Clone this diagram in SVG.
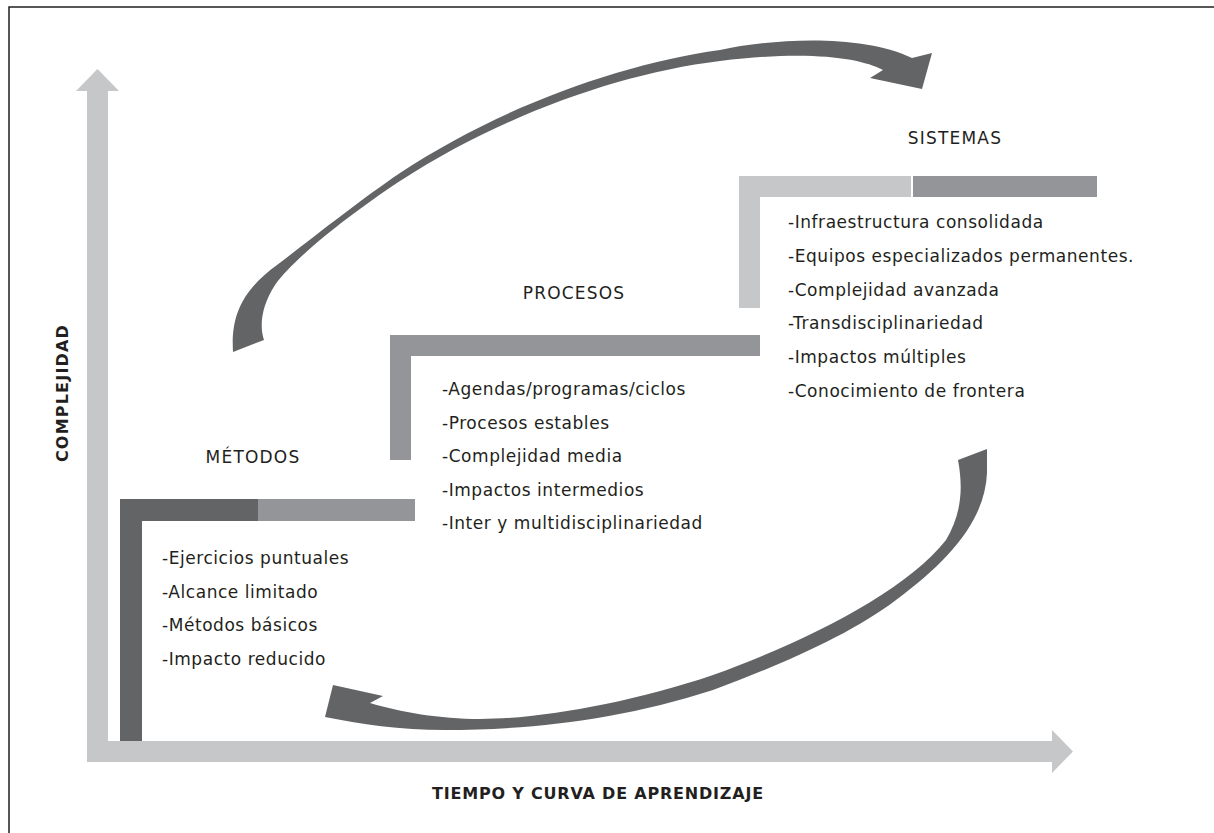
<svg xmlns="http://www.w3.org/2000/svg" width="1214" height="833" viewBox="0 0 1214 833">
<style>
.t{font-family:"DejaVu Sans","Liberation Sans",sans-serif;font-size:17px;fill:#231f20;letter-spacing:0.55px}
.h{font-family:"DejaVu Sans","Liberation Sans",sans-serif;font-size:17px;fill:#231f20;letter-spacing:1.2px;text-anchor:middle}
.ax{font-family:"DejaVu Sans","Liberation Sans",sans-serif;font-size:16px;font-weight:bold;fill:#231f20;letter-spacing:0.8px}
.light{fill:#c6c7c9}
.mid{fill:#939598}
.dark{fill:#636466}
</style>
<rect x="0" y="0" width="1214" height="833" fill="#ffffff"/>
<path d="M9,833 V7 H1214" fill="none" stroke="#231f20" stroke-width="1.5"/>

<g id="axes">
  <rect class="light" x="87" y="91" width="21" height="671"/>
  <polygon class="light" points="76,91 97.5,69 119,91"/>
  <rect class="light" x="87" y="741" width="965" height="21"/>
  <polygon class="light" points="1052,730 1073,751.5 1052,773"/>
  <text class="ax" transform="translate(68,393) rotate(-90)" text-anchor="middle" style="letter-spacing:1.2px">COMPLEJIDAD</text>
  <text class="ax" x="432" y="799">TIEMPO Y CURVA DE APRENDIZAJE</text>
</g>

<g id="metodos">
  <rect class="dark" x="120" y="499" width="138" height="22"/>
  <rect class="dark" x="120" y="499" width="22" height="242"/>
  <rect class="mid" x="258" y="499" width="157" height="22"/>
  <text class="h" x="253" y="463">MÉTODOS</text>
  <text class="t" x="162" y="564">-Ejercicios puntuales</text>
  <text class="t" x="162" y="597.5">-Alcance limitado</text>
  <text class="t" x="162" y="631">-Métodos básicos</text>
  <text class="t" x="162" y="664.5">-Impacto reducido</text>
</g>

<g id="procesos">
  <rect class="mid" x="390" y="335" width="370" height="21"/>
  <rect class="mid" x="390" y="335" width="21" height="125"/>
  <text class="h" x="574" y="299">PROCESOS</text>
  <text class="t" x="442" y="395">-Agendas/programas/ciclos</text>
  <text class="t" x="442" y="428.6">-Procesos estables</text>
  <text class="t" x="442" y="462.2">-Complejidad media</text>
  <text class="t" x="442" y="495.8">-Impactos intermedios</text>
  <text class="t" x="442" y="529.4">-Inter y multidisciplinariedad</text>
</g>

<g id="sistemas">
  <rect class="light" x="739" y="176" width="172" height="21"/>
  <rect class="light" x="739" y="176" width="21" height="132"/>
  <rect class="mid" x="913" y="176" width="184" height="21"/>
  <text class="h" x="955" y="144">SISTEMAS</text>
  <text class="t" x="788" y="228">-Infraestructura consolidada</text>
  <text class="t" x="788" y="261.8">-Equipos especializados permanentes.</text>
  <text class="t" x="788" y="295.6">-Complejidad avanzada</text>
  <text class="t" x="788" y="329.4">-Transdisciplinariedad</text>
  <text class="t" x="788" y="363.2">-Impactos múltiples</text>
  <text class="t" x="788" y="397">-Conocimiento de frontera</text>
</g>

<g id="connectors">
  <path class="dark" d="M233,352 C231,318 240,292 277,265 C310,240 360,200 400,173 C500,107 620,64 720,50 C770,39 860,33 912,58 L932,53 L922,89 L870,78 L883,70 C860,58 810,50 720,61 C620,73 500,116 400,181 C350,214 294,258 275,285 C262,305 259,325 264,340 Z"/>
  <path class="dark" d="M325,717 C360,724 400,730 445,730 C530,730 620,720 713,690 C780,665 850,635 896,600 C950,560 985,520 987,473 L987,449 L958,460 C964,492 960,516 946,540 C905,592 805,642 713,675 C630,703 540,719 480,719 C440,719 400,712 370,703 L383,696 L333,685 Z"/>
</g>
</svg>
